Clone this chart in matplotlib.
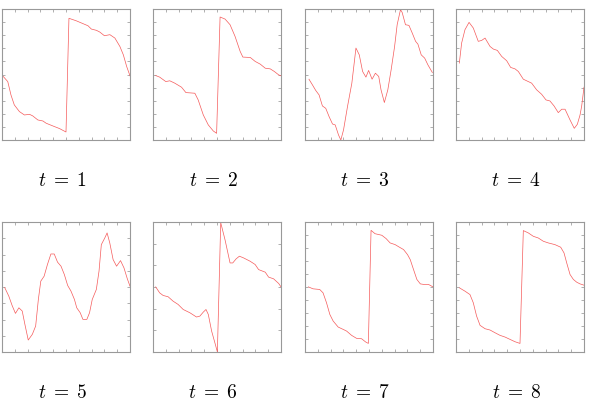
import matplotlib
matplotlib.use("Agg")
import matplotlib.pyplot as plt
from matplotlib.ticker import MultipleLocator

plt.rcParams['mathtext.fontset'] = 'cm'

# sampled curves, x in [0, 1], y in tick units (0 = bottom, 10 = top)
x1 = [0.005, 0.045, 0.07, 0.096, 0.136, 0.175, 0.215, 0.24, 0.28, 0.32, 0.345, 0.398, 0.45, 0.5,
      0.523, 0.58, 0.672, 0.698, 0.738, 0.764, 0.8, 0.843, 0.882, 0.921, 0.948, 0.974, 1.0]
y1 = [4.9, 4.46, 3.44, 2.68, 2.17, 1.91, 1.96, 1.84, 1.53, 1.45, 1.28, 1.07, 0.87, 0.61,
      9.29, 9.1, 8.72, 8.47, 8.37, 8.24, 7.96, 8.04, 7.78, 7.14, 6.5, 5.61, 4.9]

x2 = [0.021, 0.052, 0.1, 0.131, 0.17, 0.223, 0.257, 0.327, 0.353, 0.393, 0.432, 0.471, 0.497,
      0.524, 0.563, 0.602, 0.641, 0.681, 0.702, 0.76, 0.798, 0.838, 0.877, 0.916, 0.948, 0.982, 1.0]
y2 = [4.92, 4.8, 4.46, 4.52, 4.34, 4.03, 3.62, 3.57, 3.06, 1.91, 1.15, 0.69, 0.51,
      9.39, 9.23, 8.8, 7.91, 6.76, 6.33, 6.3, 6.0, 5.79, 5.48, 5.43, 5.23, 4.97, 4.9]

x3 = [0.031, 0.058, 0.084, 0.11, 0.136, 0.162, 0.188, 0.215, 0.236, 0.262, 0.28, 0.301, 0.332,
      0.366, 0.398, 0.424, 0.45, 0.476, 0.497, 0.524, 0.55, 0.576, 0.594, 0.62, 0.647, 0.673,
      0.7, 0.72, 0.746, 0.759, 0.785, 0.812, 0.838, 0.864, 0.882, 0.908, 0.935, 0.96, 0.995]
y3 = [4.64, 4.21, 3.78, 3.44, 2.6, 2.42, 1.79, 1.22, 1.15, 0.38, 0.0, 0.77, 2.55,
      4.34, 7.02, 6.5, 5.23, 4.8, 5.31, 4.64, 5.1, 4.85, 3.83, 2.86, 3.83, 5.36,
      7.14, 8.8, 9.95, 9.74, 8.8, 8.75, 8.16, 7.53, 7.32, 6.5, 6.25, 5.74, 5.15]

x4 = [0.026, 0.044, 0.07, 0.102, 0.135, 0.174, 0.2, 0.227, 0.266, 0.292, 0.323, 0.357, 0.396,
      0.427, 0.461, 0.487, 0.526, 0.565, 0.591, 0.63, 0.669, 0.703, 0.734, 0.766, 0.799, 0.826,
      0.852, 0.891, 0.924, 0.948, 0.969, 0.982, 1.0]
y4 = [5.87, 7.4, 8.42, 8.98, 8.55, 7.53, 7.6, 7.78, 7.14, 6.94, 6.84, 6.38, 6.05,
      5.54, 5.43, 5.23, 4.64, 4.46, 4.34, 3.83, 3.49, 3.06, 2.98, 2.6, 2.09, 2.35,
      2.35, 1.53, 0.89, 1.2, 1.91, 2.6, 4.03]

x5 = [0.021, 0.053, 0.079, 0.105, 0.132, 0.158, 0.179, 0.205, 0.237, 0.263, 0.284, 0.303, 0.329,
      0.355, 0.382, 0.408, 0.434, 0.461, 0.487, 0.513, 0.539, 0.566, 0.584, 0.611, 0.632, 0.663,
      0.684, 0.705, 0.737, 0.758, 0.776, 0.803, 0.821, 0.842, 0.868, 0.895, 0.926, 0.953, 0.979, 1.0]
y5 = [4.96, 4.3, 3.58, 2.97, 3.4, 3.15, 2.12, 0.92, 1.36, 2.0, 4.04, 5.45, 5.83,
      6.73, 7.54, 7.54, 6.91, 6.6, 5.96, 5.12, 4.68, 4.04, 3.4, 3.02, 2.51, 2.51,
      3.02, 4.04, 4.81, 6.22, 8.26, 8.77, 9.16, 8.39, 7.11, 6.6, 7.03, 6.47, 5.63, 5.06]

x6 = [0.021, 0.052, 0.079, 0.118, 0.157, 0.196, 0.236, 0.288, 0.34, 0.366, 0.393, 0.414, 0.432,
      0.458, 0.484, 0.503, 0.529, 0.563, 0.602, 0.623, 0.649, 0.675, 0.707, 0.759, 0.798, 0.825,
      0.877, 0.903, 0.942, 0.982, 1.0]
y6 = [5.01, 4.55, 4.35, 4.25, 3.91, 3.66, 3.27, 3.02, 2.69, 2.76, 3.07, 3.27, 2.89,
      1.61, 0.69, 0.0, 9.95, 8.62, 6.85, 6.85, 7.16, 7.37, 7.24, 6.98, 6.73, 6.34,
      6.14, 5.76, 5.63, 5.27, 5.01]

x7 = [0.026, 0.063, 0.115, 0.141, 0.168, 0.194, 0.22, 0.259, 0.298, 0.325, 0.364, 0.403, 0.442,
      0.474, 0.495, 0.516, 0.547, 0.6, 0.634, 0.665, 0.704, 0.738, 0.77, 0.801, 0.822, 0.848,
      0.874, 0.901, 0.932, 0.966, 1.0]
y7 = [5.01, 4.86, 4.81, 4.55, 3.79, 2.89, 2.38, 1.92, 1.74, 1.61, 1.28, 1.05, 1.02,
      0.77, 0.66, 9.36, 9.1, 8.98, 8.72, 8.39, 8.26, 8.06, 7.88, 7.49, 7.11, 6.34,
      5.58, 5.24, 5.19, 5.19, 5.01]

x8 = [0.026, 0.07, 0.109, 0.135, 0.161, 0.188, 0.227, 0.266, 0.305, 0.344, 0.383, 0.422, 0.461,
      0.5, 0.526, 0.565, 0.604, 0.643, 0.682, 0.721, 0.773, 0.818, 0.844, 0.865, 0.891, 0.917,
      0.943, 0.969, 1.0]
y8 = [4.94, 4.68, 4.42, 3.79, 2.76, 2.05, 1.79, 1.69, 1.48, 1.28, 1.15, 0.97, 0.79,
      0.66, 9.34, 9.16, 8.9, 8.77, 8.52, 8.39, 8.26, 8.06, 7.62, 6.85, 5.96, 5.58,
      5.37, 5.24, 5.14]

xs = [x1, x2, x3, x4, x5, x6, x7, x8]
ys = [y1, y2, y3, y4, y5, y6, y7, y8]
labels = [r'$t\;=\;%d$' % (i + 1) for i in range(8)]
ytick_steps = [1, 1, 1, 1, 10 / 8, 10 / 6, 1, 1]

W, H = 590, 412
fig = plt.figure(figsize=(W / 100, H / 100), dpi=100)

lefts = [2, 153, 305, 456]
tops = [9, 222]
bottoms = [140, 352]

for i in range(8):
    r, c = divmod(i, 4)
    ax = fig.add_axes([lefts[c] / W, 1 - bottoms[r] / H,
                       128 / W, (bottoms[r] - tops[r]) / H])
    ax.plot(xs[i], ys[i], color='#f55a5a', lw=0.5)
    ax.set_xlim(0, 1)
    ax.set_ylim(0, 10)
    ax.xaxis.set_major_locator(MultipleLocator(0.1))
    ax.yaxis.set_major_locator(MultipleLocator(ytick_steps[i]))
    ax.tick_params(direction='in', length=2, width=0.5, color='#909090',
                   top=True, right=True, labelbottom=False, labelleft=False)
    for s in ax.spines.values():
        s.set_color('#999999')
        s.set_linewidth(0.8)
    ax.text(0.47, -40 / (bottoms[r] - tops[r]), labels[i], transform=ax.transAxes,
            ha='center', va='center', fontsize=14)

fig.savefig('out.png', dpi=100)
